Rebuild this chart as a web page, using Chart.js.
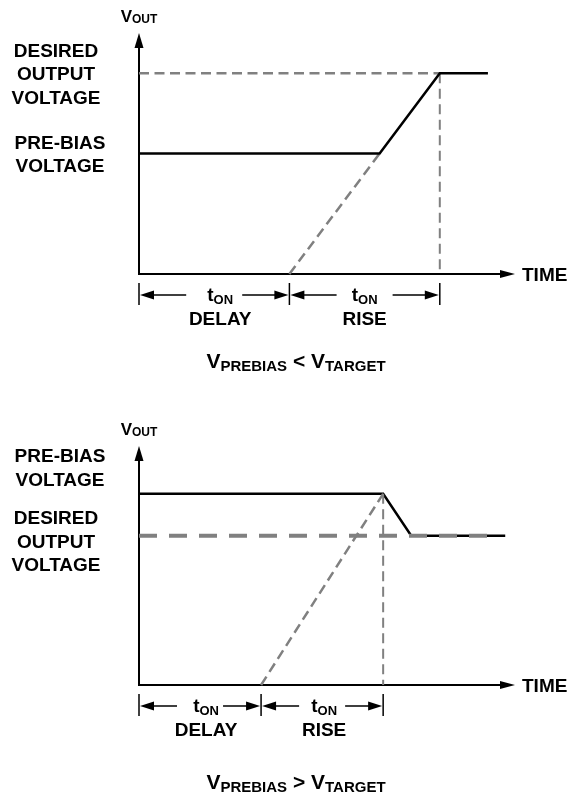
<!DOCTYPE html>
<html>
<head>
<meta charset="utf-8">
<title>Pre-bias start-up</title>
<script src="https://cdn.jsdelivr.net/npm/chart.js@4.4.1/dist/chart.umd.min.js"></script>
<style>
    html, body { margin: 0; padding: 0; background: #fff; }
    #wrap { position: relative; width: 569px; height: 792px; }
    .panel { position: absolute; left: 0; width: 569px; height: 396px; }
</style>
</head>
<body>
<div id="wrap">
    <div class="panel" style="top: 0;"><canvas id="chart-low" width="569" height="396"></canvas></div>
    <div class="panel" style="top: 396px;"><canvas id="chart-high" width="569" height="396"></canvas></div>
</div>
<script>
'use strict';

// ---- panel 1 : V_PREBIAS < V_TARGET
const lowOutTime = [0, 8, 10, 11.6];
const lowOutVolts = [3, 3, 5, 5];
const lowTargetTime = [0, 10];
const lowTargetVolts = [5, 5];
const lowRampTime = [5, 8];
const lowRampVolts = [0, 3];
const lowMarkTime = [10, 10];
const lowMarkVolts = [5, 0];
const lowSpanEdges = [0, 5, 10];
const lowSpanNames = ['DELAY', 'RISE'];

// ---- panel 2 : V_PREBIAS > V_TARGET
const highOutTime = [0, 10, 11.15, 15];
const highOutVolts = [4.8, 4.8, 3.75, 3.75];
const highTargetTime = [0, 14.3];
const highTargetVolts = [3.75, 3.75];
const highRampTime = [5, 10];
const highRampVolts = [0, 4.8];
const highMarkTime = [10, 10];
const highMarkVolts = [4.8, 0];
const highSpanEdges = [0, 5, 10];
const highSpanNames = ['DELAY', 'RISE'];

const FONT = '"Liberation Sans", Arial, Helvetica, sans-serif';
const GREY = '#808080';

function pts(xs, ys) {
    return xs.map((v, i) => ({ x: v, y: ys[i] }));
}

// runs: [text, size, baselineShift]
function drawRuns(ctx, runs, cx, baseY, align) {
    let total = 0;
    runs.forEach(r => {
        ctx.font = `bold ${r[1]}px ${FONT}`;
        total += ctx.measureText(r[0]).width;
    });
    let x = align === 'left' ? cx : cx - total / 2;
    ctx.textAlign = 'left';
    ctx.textBaseline = 'alphabetic';
    ctx.fillStyle = '#000';
    runs.forEach(r => {
        ctx.font = `bold ${r[1]}px ${FONT}`;
        ctx.fillText(r[0], x, baseY + (r[2] || 0));
        x += ctx.measureText(r[0]).width;
    });
}

function arrowHead(ctx, tipX, tipY, dir, len, half) {
    ctx.beginPath();
    if (dir === 'up') {
        ctx.moveTo(tipX, tipY);
        ctx.lineTo(tipX - half, tipY + len);
        ctx.lineTo(tipX + half, tipY + len);
    } else if (dir === 'right') {
        ctx.moveTo(tipX, tipY);
        ctx.lineTo(tipX - len, tipY - half);
        ctx.lineTo(tipX - len, tipY + half);
    } else {
        ctx.moveTo(tipX, tipY);
        ctx.lineTo(tipX + len, tipY - half);
        ctx.lineTo(tipX + len, tipY + half);
    }
    ctx.closePath();
    ctx.fill();
}

const axesPlugin = {
    id: 'axesArrows',
    beforeDatasetsDraw(chart) {
        const { ctx, chartArea: a } = chart;
        ctx.save();
        ctx.strokeStyle = '#000';
        ctx.fillStyle = '#000';
        ctx.lineWidth = 2;
        ctx.beginPath();
        ctx.moveTo(a.left, a.top + 12);
        ctx.lineTo(a.left, a.bottom);
        ctx.lineTo(a.right - 12, a.bottom);
        ctx.stroke();
        arrowHead(ctx, a.left, a.top, 'up', 15, 4.5);
        arrowHead(ctx, a.right, a.bottom, 'right', 15, 4);
        ctx.restore();
    },
    afterDraw(chart, args, opts) {
        const { ctx, chartArea: a, scales: { x, y } } = chart;
        ctx.save();

        // axis names
        drawRuns(ctx, [['V', 17], ['OUT', 12, 1]], a.left, a.top - 11);
        drawRuns(ctx, [['TIME', 19]], a.right + 7, a.bottom + 7, 'left');

        // level labels on the left
        opts.levels.forEach(lv => {
            const mid = y.getPixelForValue(lv.at) + lv.dy;
            const step = 23.5;
            lv.lines.forEach((txt, i) => {
                const cy = mid + (i - (lv.lines.length - 1) / 2) * step;
                drawRuns(ctx, [[txt, 19]], lv.cx, cy + 7);
            });
        });

        // t_ON dimension arrows
        const ay = a.bottom + 21;
        ctx.strokeStyle = '#000';
        ctx.fillStyle = '#000';
        ctx.lineWidth = 1.5;
        const edges = opts.edges.map(v => x.getPixelForValue(v));
        edges.forEach(px => {
            ctx.beginPath();
            ctx.moveTo(px, a.bottom + 9);
            ctx.lineTo(px, a.bottom + 31);
            ctx.stroke();
        });
        opts.names.forEach((name, i) => {
            const l = edges[i], r = edges[i + 1];
            const mid = (l + r) / 2;
            ctx.beginPath();
            ctx.moveTo(l + 10, ay);
            ctx.lineTo(mid - opts.gap, ay);
            ctx.moveTo(mid + opts.gap, ay);
            ctx.lineTo(r - 10, ay);
            ctx.stroke();
            arrowHead(ctx, l + 1, ay, 'left', 14, 4.5);
            arrowHead(ctx, r - 1, ay, 'right', 14, 4.5);
            const tx = mid + (opts.textShift[i] || 0);
            drawRuns(ctx, [['t', 19], ['ON', 13, 3]], tx, ay + 6);
            drawRuns(ctx, [[name, 19]], tx, a.bottom + 51);
        });

        // caption
        drawRuns(ctx, [['V', 21], [opts.sub1, 15, 3], [' ' + opts.rel + ' ', 21], ['V', 21], [opts.sub2, 15, 3]],
            296, a.bottom + opts.captionDy);
        ctx.restore();
    }
};

function buildChart(id, cfg) {
    const base = { borderCapStyle: 'butt', pointRadius: 0, tension: 0, clip: false, fill: false };
    return new Chart(document.getElementById(id), {
        type: 'line',
        data: {
            datasets: cfg.datasets.map(d => Object.assign({}, base, d))
        },
        options: {
            responsive: false,
            animation: false,
            events: [],
            layout: { padding: cfg.padding },
            scales: {
                x: { type: 'linear', display: false, min: 0, max: cfg.xMax },
                y: { type: 'linear', display: false, min: 0, max: 6 }
            },
            plugins: {
                legend: { display: false },
                tooltip: { enabled: false },
                axesArrows: cfg.annot
            }
        },
        plugins: [axesPlugin]
    });
}

buildChart('chart-low', {
    xMax: 12.5,
    padding: { left: 139, right: 54, top: 33, bottom: 122 },
    datasets: [
        { data: pts(lowOutTime, lowOutVolts), borderColor: '#000', borderWidth: 2.5 },
        { data: pts(lowTargetTime, lowTargetVolts), borderColor: GREY, borderWidth: 2.5, borderDash: [10, 5.5] },
        { data: pts(lowRampTime, lowRampVolts), borderColor: GREY, borderWidth: 2.5, borderDash: [10, 5.5] },
        { data: pts(lowMarkTime, lowMarkVolts), borderColor: GREY, borderWidth: 2, borderDash: [10, 5.5] }
    ],
    annot: {
        levels: [
            { lines: ['DESIRED', 'OUTPUT', 'VOLTAGE'], at: lowTargetVolts[0], dy: 0, cx: 56 },
            { lines: ['PRE-BIAS', 'VOLTAGE'], at: lowOutVolts[0], dy: 0, cx: 60 }
        ],
        edges: lowSpanEdges,
        names: lowSpanNames,
        gap: 28,
        textShift: [6, 0],
        sub1: 'PREBIAS', rel: '<', sub2: 'TARGET',
        captionDy: 94
    }
});

buildChart('chart-high', {
    xMax: 15.4,
    padding: { left: 139, right: 54, top: 50, bottom: 107 },
    datasets: [
        { data: pts(highTargetTime, highTargetVolts), borderColor: GREY, borderWidth: 4, borderDash: [18, 12] },
        { data: pts(highRampTime, highRampVolts), borderColor: GREY, borderWidth: 2.5, borderDash: [10, 5.5] },
        { data: pts(highMarkTime, highMarkVolts), borderColor: GREY, borderWidth: 2, borderDash: [10, 5.5] },
        { data: pts(highOutTime, highOutVolts), borderColor: '#000', borderWidth: 2.5 }
    ],
    annot: {
        levels: [
            { lines: ['PRE-BIAS', 'VOLTAGE'], at: highOutVolts[0], dy: -27, cx: 60 },
            { lines: ['DESIRED', 'OUTPUT', 'VOLTAGE'], at: highTargetVolts[0], dy: 5, cx: 56 }
        ],
        edges: highSpanEdges,
        names: highSpanNames,
        gap: 23,
        textShift: [6, 2],
        sub1: 'PREBIAS', rel: '>', sub2: 'TARGET',
        captionDy: 104
    }
});
</script>
</body>
</html>
